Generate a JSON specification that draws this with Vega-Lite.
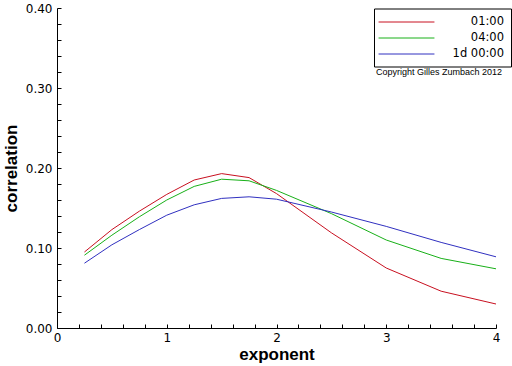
{
  "$schema": "https://vega.github.io/schema/vega-lite/v6.json",
  "width": 439,
  "height": 320,
  "autosize": {"type": "none"},
  "padding": {"left": 57, "top": 8, "right": 16, "bottom": 38},
  "background": "white",
  "config": {"view": {"stroke": null}, "font": "DejaVu Sans"},
  "layer": [
    {
      "data": {"values": [
        {"exponent": 0.25, "series": "01:00", "correlation": 0.095},
        {"exponent": 0.5, "series": "01:00", "correlation": 0.123},
        {"exponent": 0.75, "series": "01:00", "correlation": 0.146},
        {"exponent": 1.0, "series": "01:00", "correlation": 0.167},
        {"exponent": 1.25, "series": "01:00", "correlation": 0.185},
        {"exponent": 1.5, "series": "01:00", "correlation": 0.193},
        {"exponent": 1.75, "series": "01:00", "correlation": 0.188},
        {"exponent": 2.0, "series": "01:00", "correlation": 0.168},
        {"exponent": 2.5, "series": "01:00", "correlation": 0.119},
        {"exponent": 3.0, "series": "01:00", "correlation": 0.075},
        {"exponent": 3.5, "series": "01:00", "correlation": 0.046},
        {"exponent": 4.0, "series": "01:00", "correlation": 0.030},
        {"exponent": 0.25, "series": "04:00", "correlation": 0.091},
        {"exponent": 0.5, "series": "04:00", "correlation": 0.116},
        {"exponent": 0.75, "series": "04:00", "correlation": 0.139},
        {"exponent": 1.0, "series": "04:00", "correlation": 0.160},
        {"exponent": 1.25, "series": "04:00", "correlation": 0.177},
        {"exponent": 1.5, "series": "04:00", "correlation": 0.186},
        {"exponent": 1.75, "series": "04:00", "correlation": 0.184},
        {"exponent": 2.0, "series": "04:00", "correlation": 0.172},
        {"exponent": 2.5, "series": "04:00", "correlation": 0.143},
        {"exponent": 3.0, "series": "04:00", "correlation": 0.110},
        {"exponent": 3.5, "series": "04:00", "correlation": 0.087},
        {"exponent": 4.0, "series": "04:00", "correlation": 0.074},
        {"exponent": 0.25, "series": "1d 00:00", "correlation": 0.081},
        {"exponent": 0.5, "series": "1d 00:00", "correlation": 0.104},
        {"exponent": 0.75, "series": "1d 00:00", "correlation": 0.123},
        {"exponent": 1.0, "series": "1d 00:00", "correlation": 0.141},
        {"exponent": 1.25, "series": "1d 00:00", "correlation": 0.154},
        {"exponent": 1.5, "series": "1d 00:00", "correlation": 0.162},
        {"exponent": 1.75, "series": "1d 00:00", "correlation": 0.164},
        {"exponent": 2.0, "series": "1d 00:00", "correlation": 0.161},
        {"exponent": 2.5, "series": "1d 00:00", "correlation": 0.145},
        {"exponent": 3.0, "series": "1d 00:00", "correlation": 0.127},
        {"exponent": 3.5, "series": "1d 00:00", "correlation": 0.107},
        {"exponent": 4.0, "series": "1d 00:00", "correlation": 0.089}
      ]},
      "mark": {"type": "line", "strokeWidth": 1},
      "encoding": {
        "x": {
          "field": "exponent", "type": "quantitative",
          "scale": {"domain": [0, 4], "nice": false},
          "axis": {
            "title": "exponent",
            "values": [0, 0.2, 0.4, 0.6, 0.8, 1, 1.2, 1.4, 1.6, 1.8, 2, 2.2, 2.4, 2.6, 2.8, 3, 3.2, 3.4, 3.6, 3.8, 4],
            "tickCount": 100,
            "labelExpr": "abs(datum.value - round(datum.value)) < 1e-6 ? format(datum.value, 'd') : ''",
            "tickSize": -4,
            "encode": {"ticks": {"update": {"y2": {"signal": "abs(datum.value - round(datum.value)) < 1e-6 ? -6 : -4"}}}},
            "grid": false,
            "domainColor": "black",
            "tickColor": "black",
            "labelFlush": false,
            "labelOverlap": false,
            "labelFont": "DejaVu Sans",
            "labelFontSize": 12,
            "labelColor": "black",
            "labelPadding": 8,
            "titleFont": "Liberation Sans",
            "titleFontSize": 17,
            "titleFontWeight": "bold",
            "titleColor": "black",
            "titlePadding": 3
          }
        },
        "y": {
          "field": "correlation", "type": "quantitative",
          "scale": {"domain": [0, 0.4], "nice": false},
          "axis": {
            "title": "correlation",
            "values": [0, 0.02, 0.04, 0.06, 0.08, 0.1, 0.12, 0.14, 0.16, 0.18, 0.2, 0.22, 0.24, 0.26, 0.28, 0.3, 0.32, 0.34, 0.36, 0.38, 0.4],
            "tickCount": 100,
            "labelExpr": "abs(datum.value * 10 - round(datum.value * 10)) < 1e-6 ? format(datum.value, '.2f') : ''",
            "tickSize": -4,
            "encode": {"ticks": {"update": {"x2": {"signal": "abs(datum.value * 10 - round(datum.value * 10)) < 1e-6 ? 7 : 4"}}}},
            "grid": false,
            "domainColor": "black",
            "tickColor": "black",
            "labelFlush": false,
            "labelOverlap": false,
            "labelFont": "DejaVu Sans",
            "labelFontSize": 12,
            "labelColor": "black",
            "labelPadding": 9,
            "titleFont": "Liberation Sans",
            "titleFontSize": 17,
            "titleFontWeight": "bold",
            "titleColor": "black",
            "titlePadding": 5
          }
        },
        "color": {
          "field": "series", "type": "nominal",
          "scale": {"domain": ["01:00", "04:00", "1d 00:00"], "range": ["#c81020", "#18b018", "#3030c0"]},
          "legend": {
            "title": null,
            "orient": "none",
            "legendX": 317,
            "legendY": 0.5,
            "strokeColor": "black",
            "fillColor": "white",
            "padding": 7,
            "symbolType": "M-5,0H5",
            "symbolSize": 125,
            "symbolStrokeWidth": 1,
            "symbolOffset": 19,
            "labelAlign": "right",
            "labelOffset": 91,
            "labelFont": "DejaVu Sans",
            "labelFontSize": 11.5,
            "labelColor": "black",
            "rowPadding": 4
          }
        }
      }
    },
    {
      "data": {"values": [{"exponent": 4, "correlation": 0.32, "note": "Copyright Gilles Zumbach 2012"}]},
      "mark": {"type": "text", "align": "right", "baseline": "middle", "dx": 6, "fontSize": 9, "font": "Liberation Sans", "color": "black"},
      "encoding": {
        "x": {"field": "exponent", "type": "quantitative"},
        "y": {"field": "correlation", "type": "quantitative"},
        "text": {"field": "note"}
      }
    }
  ]
}
